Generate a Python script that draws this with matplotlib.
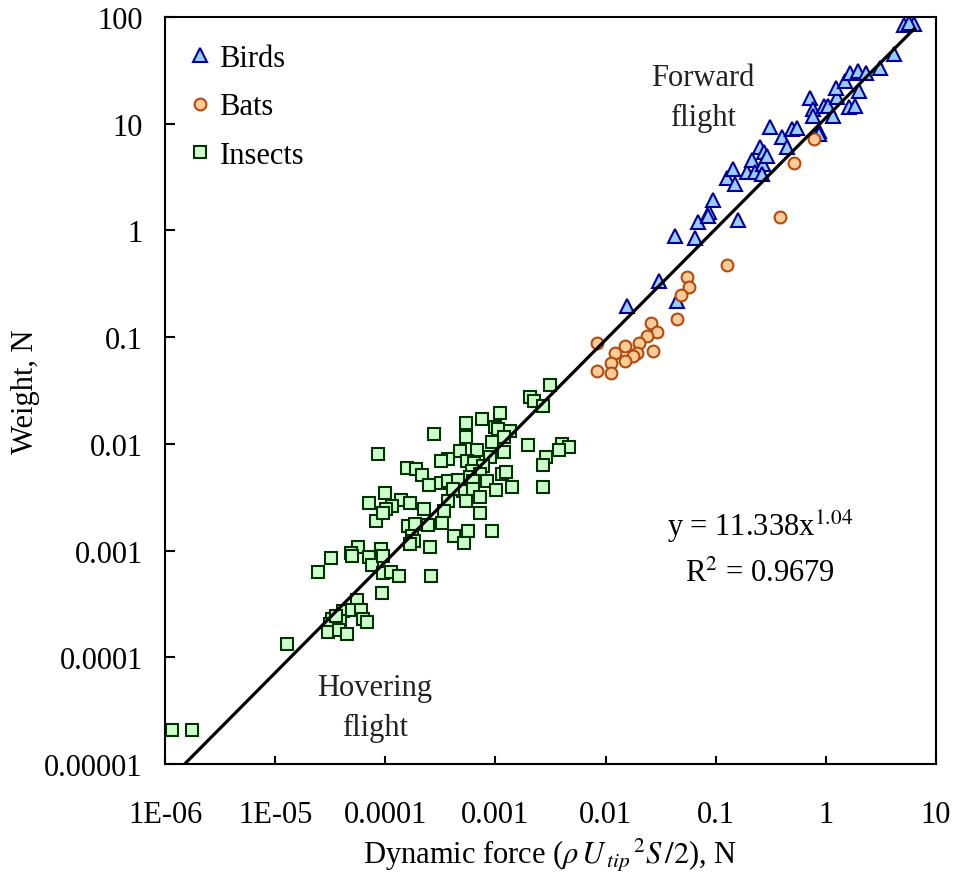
import numpy as np
import matplotlib
matplotlib.use("Agg")
import matplotlib.pyplot as plt

plt.rcParams['font.family'] = ['Liberation Serif', 'DejaVu Serif']
plt.rcParams['mathtext.fontset'] = 'stix'

# 鳥類：動壓力 (N) 與體重 (N)
birds_x = [0.0156, 0.0309, 0.0445, 0.0428, 0.0652, 0.0698, 0.0879, 0.0861, 0.0955, 0.161,
           0.126, 0.145, 0.150, 0.192, 0.213, 0.229, 0.254, 0.276, 0.272, 0.263,
           0.313, 0.399, 0.442, 0.492, 0.545, 0.294, 0.721, 0.773, 0.773, 0.861,
           0.861, 0.955, 1.04, 1.17, 1.26, 1.24, 1.49, 1.61, 1.83, 1.67,
           1.98, 2.34, 1.99, 3.12, 4.18, 5.10, 6.35, 5.71]
birds_y = [0.197, 0.338, 0.219, 0.891, 0.843, 1.21, 1.48, 1.36, 1.94, 1.26,
           3.08, 3.76, 2.72, 3.55, 4.60, 3.55, 6.01, 5.47, 4.19, 3.38,
           9.25, 7.46, 6.07, 8.91, 9.12, 5.01, 17.4, 13.7, 11.7, 8.59,
           8.0, 14.8, 14.8, 11.9, 17.7, 21.6, 25.1, 14.3, 14.8, 30.2,
           31.4, 29.9, 20.2, 33.0, 45.0, 84.1, 86.0, 88.8]

# 蝙蝠
bats_x = [0.126, 0.0547, 0.0574, 0.0486, 0.0445, 0.0259, 0.0292, 0.0237, 0.00843, 0.01507,
          0.0203, 0.01222, 0.0195, 0.0177, 0.0272, 0.01117, 0.01507, 0.00843, 0.01117, 0.386,
          0.520, 0.789]
bats_y = [0.474, 0.366, 0.293, 0.248, 0.148, 0.1355, 0.1125, 0.103, 0.0881, 0.0830,
          0.0881, 0.0710, 0.0710, 0.0670, 0.0736, 0.0571, 0.0593, 0.0478, 0.0458, 1.34,
          4.33, 7.19]

# 昆蟲
insects_x = [8.65e-5, 7.08e-5, 8.30e-5, 5.70e-5, 4.89e-5, 5.02e-5, 3.20e-5, 7.08e-5, 7.64e-5, 2.47e-5,
             5.51e-5, 4.16e-5, 4.97e-5, 6.03e-5, 6.32e-5, 6.79e-5, 3.27e-5, 3.88e-5, 3.15e-5, 3.04e-5,
             3.80e-5, 4.47e-5, 1.29e-5, 3.57e-5, 1.16e-6, 1.76e-6,
             9.87e-5, 1.38e-4, 1.69e-4, 1.16e-4, 1.02e-4, 9.62e-5, 2.26e-4, 1.60e-4, 1.85e-4, 2.45e-4,
             1.74e-4, 1.83e-4, 1.69e-4, 2.55e-4, 9.16e-5, 9.48e-5, 9.48e-5, 1.13e-4, 1.32e-4, 2.61e-4,
             9.42e-5, 1.56e-4, 1.91e-4, 2.17e-4, 2.50e-4,
             3.14e-3, 2.07e-3, 2.24e-3, 2.73e-3, 1.10e-3, 7.62e-4, 5.42e-4, 2.79e-4, 9.93e-4, 1.06e-3,
             1.36e-3, 5.42e-4, 1.20e-3, 9.27e-4, 1.97e-3, 4.01e-3, 4.67e-3, 3.81e-3, 4.77e-4, 6.78e-4,
             1.20e-3, 8.95e-4, 3.74e-4, 3.21e-4, 2.87e-3, 2.73e-3, 5.50e-4, 6.44e-4, 7.78e-4, 6.11e-4,
             7.26e-4, 1.14e-3, 1.25e-3, 5.89e-4, 3.21e-4, 3.74e-4, 4.61e-4, 6.31e-4, 8.45e-4, 1.41e-3,
             2.73e-3, 1.01e-3, 5.12e-4, 6.24e-4, 4.16e-4, 3.74e-4, 5.42e-4, 7.26e-4, 3.44e-4, 7.26e-4,
             3.26e-4, 4.22e-4, 5.69e-4, 5.20e-4, 9.27e-4]
insects_y = [8.07e-3, 2.77e-3, 1.88e-3, 1.07e-3, 9.42e-4, 8.93e-4, 8.57e-4, 8.69e-4, 7.31e-4, 6.32e-4,
             3.46e-4, 2.73e-4, 2.79e-4, 2.79e-4, 2.28e-4, 2.15e-4, 2.28e-4, 2.20e-4, 2.05e-4, 1.73e-4,
             1.81e-4, 1.65e-4, 1.34e-4, 2.45e-4, 2.08e-5, 2.08e-5,
             3.44e-3, 3.01e-3, 2.77e-3, 2.63e-3, 2.44e-3, 2.25e-3, 2.44e-3, 1.71e-3, 1.78e-3, 1.75e-3,
             1.38e-3, 1.24e-3, 1.16e-3, 1.07e-3, 1.03e-3, 8.93e-4, 6.11e-4, 6.32e-4, 5.81e-4, 5.81e-4,
             3.97e-4, 6.00e-3, 5.77e-3, 5.07e-3, 4.08e-3,
             3.56e-2, 2.73e-2, 2.54e-2, 2.28e-2, 1.93e-2, 1.71e-2, 1.56e-2, 1.25e-2, 1.43e-2, 1.38e-2,
             1.33e-2, 1.15e-2, 1.15e-2, 1.05e-2, 9.75e-3, 9.96e-3, 9.27e-3, 8.81e-3, 8.51e-3, 8.81e-3,
             8.43e-3, 7.46e-3, 7.21e-3, 6.85e-3, 7.46e-3, 6.32e-3, 6.85e-3, 6.56e-3, 6.24e-3, 5.60e-3,
             5.21e-3, 5.21e-3, 5.47e-3, 4.85e-3, 4.27e-3, 4.46e-3, 4.58e-3, 4.51e-3, 4.51e-3, 3.91e-3,
             3.91e-3, 3.72e-3, 3.63e-3, 3.77e-3, 3.77e-3, 2.89e-3, 2.93e-3, 3.15e-3, 2.33e-3, 2.23e-3,
             1.80e-3, 1.38e-3, 1.51e-3, 1.19e-3, 1.51e-3]

# 冪次趨勢線 y = a x^b
fit_a = 11.338
fit_b = 1.04
fit_r2 = 0.9679

x_ticks = [1e-6, 1e-5, 1e-4, 1e-3, 1e-2, 1e-1, 1, 10]
x_ticklabels = ['1E-06', '1E-05', '0.0001', '0.001', '0.01', '0.1', '1', '10']
y_ticks = [1e-5, 1e-4, 1e-3, 1e-2, 1e-1, 1, 10, 100]
y_ticklabels = ['0.00001', '0.0001', '0.001', '0.01', '0.1', '1', '10', '100']

FS = 22

fig = plt.figure(figsize=(9.54, 8.79), dpi=100)
ax = fig.add_axes([0.173, 0.1297, 0.808, 0.8498])

ax.plot(birds_x, birds_y, ls='', marker='^', ms=9.5, mfc='#99CCFF', mec='#000099',
        mew=1.5, label='Birds', zorder=2)
ax.plot(bats_x, bats_y, ls='', marker='o', ms=8.5, mfc='#FFCC99', mec='#B44A0A',
        mew=1.5, label='Bats', zorder=2)
ax.plot(insects_x, insects_y, ls='', marker='s', ms=8, mfc='#CCFFCC', mec='#003300',
        mew=1.5, label='Insects', zorder=2)

all_x = np.concatenate([birds_x, bats_x, insects_x])
xf = np.geomspace(all_x.min(), all_x.max(), 200)
ax.plot(xf, fit_a * xf ** fit_b, color='black', lw=2.3, zorder=3)

ax.set_xscale('log')
ax.set_yscale('log')
ax.set_xlim(1e-6, 10)
ax.set_ylim(1e-5, 100)
ax.set_xticks(x_ticks)
ax.set_xticklabels(x_ticklabels)
ax.set_yticks(y_ticks)
ax.set_yticklabels(y_ticklabels)
ax.minorticks_off()
ax.tick_params(axis='x', direction='in', length=6, width=1.5, pad=26, labelsize=FS)
ax.tick_params(axis='y', direction='in', length=7, width=1.5, pad=16, labelsize=FS)
for sp in ax.spines.values():
    sp.set_linewidth(1.5)

ax.set_xlabel(r'Dynamic force ($\rho\,U_{\,tip}{}^{\,2}S\,/2$), N', fontsize=FS, labelpad=5)
ax.set_ylabel('Weight, N', fontsize=FS, labelpad=3)

ax.text(0.698, 0.892, 'Forward\nflight', transform=ax.transAxes, ha='center', va='center',
        fontsize=FS, color='#222222', linespacing=1.5)
ax.text(0.272, 0.076, 'Hovering\nflight', transform=ax.transAxes, ha='center', va='center',
        fontsize=FS, color='#222222', linespacing=1.5)
ax.text(0.772, 0.32, 'y = 11.338x$^{1.04}$', transform=ax.transAxes, ha='center',
        va='center', fontsize=FS)
ax.text(0.772, 0.255, 'R$^{2}$ = %.4f' % fit_r2, transform=ax.transAxes, ha='center',
        va='center', fontsize=FS)

ax.legend(loc='upper left', bbox_to_anchor=(0.0337, 0.964), frameon=False, fontsize=FS,
          numpoints=1, handlelength=0.6, handletextpad=0.33, labelspacing=0.64,
          borderpad=0, borderaxespad=0)

fig.savefig('out.png', dpi=100)
